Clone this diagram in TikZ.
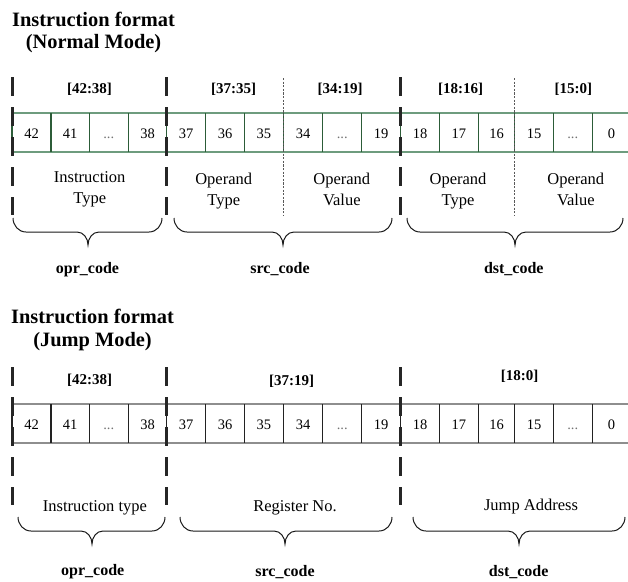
\documentclass[tikz,border=0pt]{standalone}
\usepackage{fontspec}
\setmainfont{Liberation Serif}
\definecolor{normalrule}{HTML}{6E9C7E}
\definecolor{normaldiv}{HTML}{2C5C38}
\definecolor{jumprule}{HTML}{8E8E8E}
\definecolor{jumpdiv}{HTML}{222222}
\newcommand\bitgap{\textcolor{black!55}{...}}
% curly brace under a field: left x, right x, tip x, top y
\newcommand\fieldbrace[4]{%
  \draw[bracestyle] (#1,#4) to[out=-90,in=180] (#1+13,#4+14)
    -- (#3-11,#4+14) to[out=0,in=90] (#3,#4+27)
    to[out=90,in=180] (#3+11,#4+14) -- (#2-13,#4+14)
    to[out=0,in=-90] (#2,#4);}
\begin{document}
\begin{tikzpicture}[x=1pt,y=-1pt,
  titletext/.style={font=\fontsize{20.4}{23}\selectfont\bfseries, inner sep=0pt, anchor=base},
  rangetext/.style={font=\fontsize{15}{18}\selectfont\bfseries, inner sep=0pt, anchor=base},
  bittext/.style={font=\fontsize{14.5}{17}\selectfont, inner sep=0pt, anchor=base},
  fieldtext/.style={font=\fontsize{16.5}{20.5}\selectfont, inner sep=0pt, align=center},
  codetext/.style={font=\fontsize{16}{19}\selectfont\bfseries, inner sep=0pt, anchor=base},
  fieldsep/.style={line width=3pt, dash pattern=on 19pt off 11pt, color=black!85},
  subsep/.style={line width=0.8pt, dash pattern=on 2.2pt off 1.4pt, color=black!65},
  bracestyle/.style={line width=1pt, color=black!90},
  normalrow/.style={line width=1.6pt, color=normalrule},
  normalcell/.style={line width=1.2pt, color=normaldiv},
  jumprow/.style={line width=1.6pt, color=jumprule},
  jumpcell/.style={line width=1.1pt, color=jumpdiv}]
\useasboundingbox (0,0) rectangle (628,581);

% ---------------- Normal mode ----------------
\node[titletext] (ntitleA) at (93.5,26) {Instruction format};
\node[titletext] (ntitleB) at (93.5,48.3) {(Normal Mode)};

\node[rangetext] (nr1) at (89.5,93.5) {[42:38]};
\node[rangetext] (nr2) at (233.5,93.5) {[37:35]};
\node[rangetext] (nr3) at (340,93.5) {[34:19]};
\node[rangetext] (nr4) at (460.5,93.5) {[18:16]};
\node[rangetext] (nr5) at (573.3,93.5) {[15:0]};

\draw[normalrow] (12,113) -- (632,113) (12,152) -- (632,152);
\foreach \x in {12,51,89.3,128.3,166.7,205.7,244.3,283.3,322.7,361.7,400.7,439.3,478.3,514.7,553.3,592.3}
  \draw[normalcell] (\x,113) -- (\x,152);
\foreach \x/\t [count=\i] in {31.5/42,70.15/41,108.8/\bitgap,147.5/38,186.2/37,225/36,263.8/35,303/34,
    342.2/\bitgap,381.2/19,420/18,458.8/17,496.5/16,534/15,572.8/\bitgap,611.6/0}
  \node[bittext] (nb\i) at (\x,138) {\t};

\draw[subsep] (283.3,78) -- (283.3,215);
\draw[subsep] (514.7,78) -- (514.7,215);
\foreach \x in {12,166.7,400.7}
  \draw[fieldsep] (\x,77) -- (\x,215);

\node[fieldtext, anchor=north] (nf1) at (89.7,171.6) {Instruction\\Type};
\node[fieldtext, anchor=north] (nf2) at (223.7,173) {Operand\\Type};
\node[fieldtext, anchor=north] (nf3) at (341.8,173) {Operand\\Value};
\node[fieldtext, anchor=north] (nf4) at (458,173) {Operand\\Type};
\node[fieldtext, anchor=north] (nf5) at (575.8,173) {Operand\\Value};

\fieldbrace{13}{162}{88}{218}
\fieldbrace{174}{392}{283}{218}
\fieldbrace{407}{623}{515}{218}

\node[codetext] (nc1) at (87.5,273) {opr\_code};
\node[codetext] (nc2) at (280,273) {src\_code};
\node[codetext] (nc3) at (513.8,273) {dst\_code};

% ---------------- Jump mode ----------------
\node[titletext] (jtitleA) at (92.5,323.3) {Instruction format};
\node[titletext] (jtitleB) at (92.5,346.7) {(Jump Mode)};

\node[rangetext] (jr1) at (89.7,384.5) {[42:38]};
\node[rangetext] (jr2) at (291.7,385) {[37:19]};
\node[rangetext] (jr3) at (519.5,380.7) {[18:0]};

\draw[jumprow] (12,404) -- (632,404) (12,443) -- (632,443);
\foreach \x in {12,51,89.3,128.3,166.7,205.7,244.3,283.3,322.7,361.7,400.7,439.3,478.3,514.7,553.3,592.3}
  \draw[jumpcell] (\x,404) -- (\x,443);
\foreach \x/\t [count=\i] in {31.5/42,70.15/41,108.8/\bitgap,147.5/38,186.2/37,225/36,263.8/35,303/34,
    342.2/\bitgap,381.2/19,420/18,458.8/17,496.5/16,534/15,572.8/\bitgap,611.6/0}
  \node[bittext] (jb\i) at (\x,429) {\t};

\foreach \x in {12,166.7,400.7}
  \draw[fieldsep] (\x,367) -- (\x,505);

\node[fieldtext, anchor=base] (jf1) at (95,511) {Instruction type};
\node[fieldtext, anchor=base] (jf2) at (295,511.7) {Register No.};
\node[fieldtext, anchor=base] (jf3) at (531,510) {Jump Address};

\fieldbrace{18}{165}{92}{517}
\fieldbrace{180}{392}{285}{517}
\fieldbrace{413}{625}{519}{517}

\node[codetext] (jc1) at (92.7,575.5) {opr\_code};
\node[codetext] (jc2) at (285,576.5) {src\_code};
\node[codetext] (jc3) at (518.7,576.5) {dst\_code};
\end{tikzpicture}
\end{document}
